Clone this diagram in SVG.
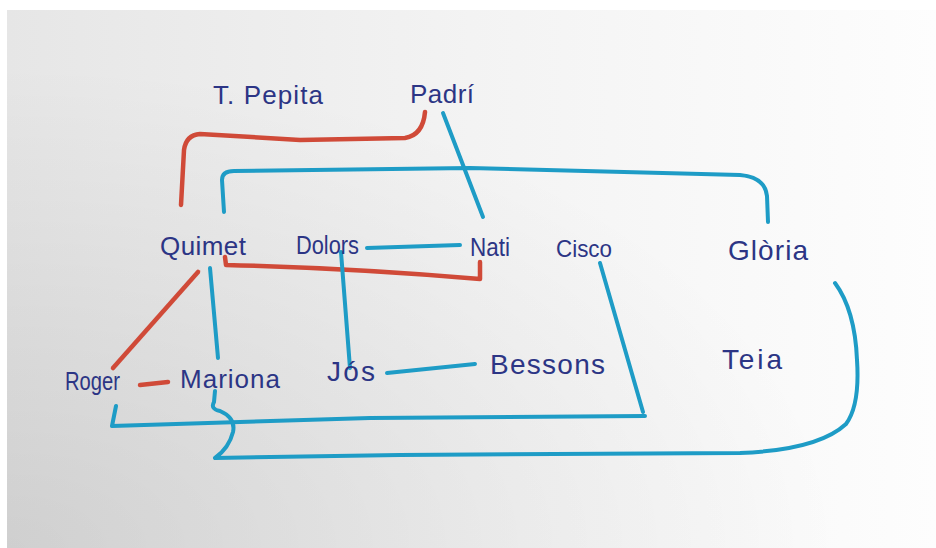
<svg xmlns="http://www.w3.org/2000/svg" width="936" height="548" viewBox="0 0 936 548">
  <defs>
    <linearGradient id="paper" x1="0" y1="0" x2="1" y2="0">
      <stop offset="0" stop-color="#e6e6e6"/>
      <stop offset="0.5" stop-color="#f3f3f3"/>
      <stop offset="1" stop-color="#fdfdfd"/>
    </linearGradient>
    <radialGradient id="shade" cx="0" cy="1" r="0.9">
      <stop offset="0" stop-color="#000000" stop-opacity="0.1"/>
      <stop offset="1" stop-color="#000000" stop-opacity="0"/>
    </radialGradient>
    <style>
      .lbl { font-family: "Liberation Sans", "DejaVu Sans", sans-serif; fill: #2c3585; }
      .red { fill: none; stroke: #d04a38; stroke-width: 4.5; stroke-linecap: round; stroke-linejoin: round; }
      .blue { fill: none; stroke: #1e9cc6; stroke-width: 4; stroke-linecap: round; stroke-linejoin: round; }
    </style>
  </defs>
  <rect x="0" y="0" width="936" height="548" fill="#ffffff"/>
  <rect x="7" y="10" width="929" height="538" fill="url(#paper)"/>
  <rect x="7" y="10" width="929" height="538" fill="url(#shade)"/>

  <g id="connectors">
    <!-- red -->
    <path class="red" d="M425,112 Q423,135 405,138 L300,140 L200,134 Q186,135 184,150 L181,205"/>
    <path class="red" d="M225,257 L226,265 Q350,268 480,279 L480,262"/>
    <path class="red" d="M198,272 L113,368"/>
    <path class="red" d="M140,385 L168,382"/>
    <!-- blue -->
    <path class="blue" d="M443,113 L483,217"/>
    <path class="blue" d="M224,212 L222,180 Q222,171 234,171 L470,168 L740,175 Q765,177 767,196 L768,222"/>
    <path class="blue" d="M367,248 L460,245"/>
    <path class="blue" d="M341,252 L350,368"/>
    <path class="blue" d="M387,373 L475,364"/>
    <path class="blue" d="M210,268 L218,358"/>
    <path class="blue" d="M600,263 L643,412 M116,406 L112,426 L370,418 L645,416"/>
    <path class="blue" d="M215,391 L214,402 Q210,409 220,411 Q236,418 233,432 Q229,448 215,458 L400,455 L740,453 Q818,450 846,424 Q860,405 857,360 Q855,310 835,283"/>
  </g>

  <g id="tpepita"><text class="lbl" x="213" y="104" font-size="26" textLength="110" lengthAdjust="spacing">T. Pepita</text></g>
  <g id="padri"><text class="lbl" x="410" y="103" font-size="26" textLength="64" lengthAdjust="spacing">Padrí</text></g>
  <g id="quimet"><text class="lbl" x="160" y="255" font-size="26" textLength="86" lengthAdjust="spacing">Quimet</text></g>
  <g id="dolors"><text class="lbl" x="296" y="254" font-size="25" textLength="63" lengthAdjust="spacingAndGlyphs">Dolors</text></g>
  <g id="nati"><text class="lbl" x="470" y="256" font-size="25" textLength="40" lengthAdjust="spacingAndGlyphs">Nati</text></g>
  <g id="cisco"><text class="lbl" x="556" y="257" font-size="24" textLength="56" lengthAdjust="spacingAndGlyphs">Cisco</text></g>
  <g id="gloria"><text class="lbl" x="728" y="260" font-size="28" textLength="80" lengthAdjust="spacing">Glòria</text></g>
  <g id="roger"><text class="lbl" x="65" y="390" font-size="25" textLength="55" lengthAdjust="spacingAndGlyphs">Roger</text></g>
  <g id="mariona"><text class="lbl" x="180" y="388" font-size="26" textLength="100" lengthAdjust="spacing">Mariona</text></g>
  <g id="jos"><text class="lbl" x="327" y="381" font-size="28" textLength="48" lengthAdjust="spacing">Jós</text></g>
  <g id="bessons"><text class="lbl" x="490" y="374" font-size="28" textLength="115" lengthAdjust="spacing">Bessons</text></g>
  <g id="teia"><text class="lbl" x="722" y="369" font-size="28" textLength="60" lengthAdjust="spacing">Teia</text></g>
</svg>
